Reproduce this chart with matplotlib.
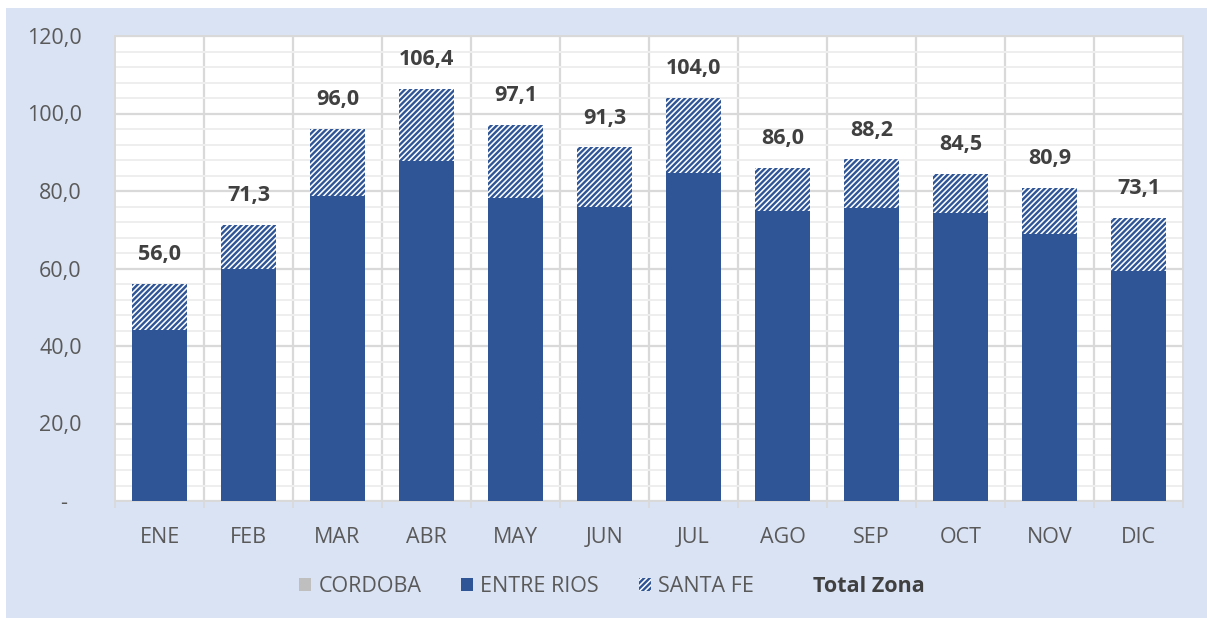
import matplotlib
matplotlib.use("Agg")
import matplotlib.pyplot as plt
from matplotlib.patches import Rectangle, Patch
from matplotlib.lines import Line2D
from matplotlib.ticker import MultipleLocator, FixedLocator
import matplotlib.transforms as mtransforms
import numpy as np

months = ["ENE", "FEB", "MAR", "ABR", "MAY", "JUN", "JUL", "AGO", "SEP", "OCT", "NOV", "DIC"]
cordoba = [0, 0, 0, 0, 0, 0, 0, 0, 0, 0, 0, 0]
entre_rios = [44.1, 60.0, 78.8, 87.8, 78.1, 75.9, 84.7, 74.8, 75.7, 74.2, 68.8, 59.4]
santa_fe = [11.9, 11.3, 17.2, 18.6, 19.0, 15.4, 19.3, 11.2, 12.5, 10.3, 12.1, 13.7]
total_zona = [56.0, 71.3, 96.0, 106.4, 97.1, 91.3, 104.0, 86.0, 88.2, 84.5, 80.9, 73.1]
y_ticks = [0, 20, 40, 60, 80, 100, 120]
y_tick_labels = ["-", "20,0", "40,0", "60,0", "80,0", "100,0", "120,0"]

BLUE = "#2F5597"
BG = "#DAE3F3"
TXT = "#595959"
LBL = "#404040"
GRID = "#D9D9D9"
MINOR = "#EEEEEE"
HATCH = "//////"

plt.rcParams["font.family"] = ["Open Sans", "DejaVu Sans"]
plt.rcParams["hatch.color"] = BLUE
plt.rcParams["hatch.linewidth"] = 1.7

W, H = 1207, 618
fig = plt.figure(figsize=(W / 100, H / 100), dpi=100)
fig.patch.set_facecolor("white")
fig.add_artist(Rectangle((6 / W, 0), 1, (H - 8) / H, transform=fig.transFigure,
                         facecolor=BG, edgecolor="none", zorder=0))

ax = fig.add_axes([115 / W, (H - 501) / H, (1183 - 115) / W, (501 - 36) / H])
ax.set_facecolor("white")
ax.set_zorder(1)

x = np.arange(len(months))
bw = 0.62
b0 = ax.bar(x, cordoba, bw, color="#A5A5A5", zorder=3, label="CORDOBA")
b1 = ax.bar(x, entre_rios, bw, bottom=cordoba, color=BLUE, zorder=3, label="ENTRE RIOS")
bottom2 = np.array(cordoba) + np.array(entre_rios)
b2 = ax.bar(x, santa_fe, bw, bottom=bottom2, facecolor="white", edgecolor=BLUE,
            linewidth=0, hatch=HATCH, zorder=3, label="SANTA FE")

for xi, t in zip(x, total_zona):
    ax.annotate(f"{t:.1f}".replace(".", ","), (xi, t), xytext=(0, 17),
                textcoords="offset points", ha="center", va="baseline",
                fontsize=15.5, fontweight="bold", color=LBL, zorder=5)

ax.set_xlim(-0.5, len(months) - 0.5)
ax.set_ylim(0, 120)

# grid
ax.yaxis.set_major_locator(FixedLocator(y_ticks))
ax.yaxis.set_minor_locator(MultipleLocator(4))
ax.grid(axis="y", which="major", color=GRID, linewidth=1.6, zorder=1)
ax.grid(axis="y", which="minor", color=MINOR, linewidth=1.4, zorder=0.5)
for b in np.arange(0.5, len(months) - 0.5, 1):
    ax.axvline(b, color=GRID, linewidth=1.6, zorder=1)

ax.set_yticklabels(y_tick_labels)
ax.tick_params(axis="y", which="both", length=0, pad=24, labelsize=15.5, labelcolor=TXT)
ax.set_xticks(x)
ax.set_xticklabels(months)
ax.xaxis.set_minor_locator(FixedLocator(np.arange(-0.5, len(months), 1)))
ax.tick_params(axis="x", which="major", length=0, pad=19, labelsize=15.5, labelcolor=TXT)
ax.tick_params(axis="x", which="minor", length=5, width=1.2, color=GRID, direction="out")

# shift "-" label left like accounting format
lab0 = ax.get_yticklabels()[0]
lab0.set_transform(lab0.get_transform() + mtransforms.ScaledTranslation(-0.15, 0, fig.dpi_scale_trans))

for s in ax.spines.values():
    s.set_color(GRID)
    s.set_linewidth(1.4)

handles = [
    Patch(facecolor="#BFBFBF", edgecolor="none"),
    Patch(facecolor=BLUE, edgecolor="none"),
    Patch(facecolor="white", edgecolor=BLUE, linewidth=0, hatch=HATCH),
    Line2D([], [], color="none"),
]
labels = ["CORDOBA", "ENTRE RIOS", "SANTA FE", "Total Zona"]
leg = fig.legend(handles, labels, loc="center", bbox_to_anchor=(612 / W, 1 - 587 / H),
                 ncol=4, frameon=False, fontsize=15.5, handlelength=0.55, handleheight=0.55,
                 handletextpad=0.35, columnspacing=1.85, labelcolor=TXT)
leg.get_texts()[3].set_fontweight("bold")
leg.get_texts()[3].set_color(LBL)

fig.savefig("out.png", dpi=100, facecolor=fig.get_facecolor())
